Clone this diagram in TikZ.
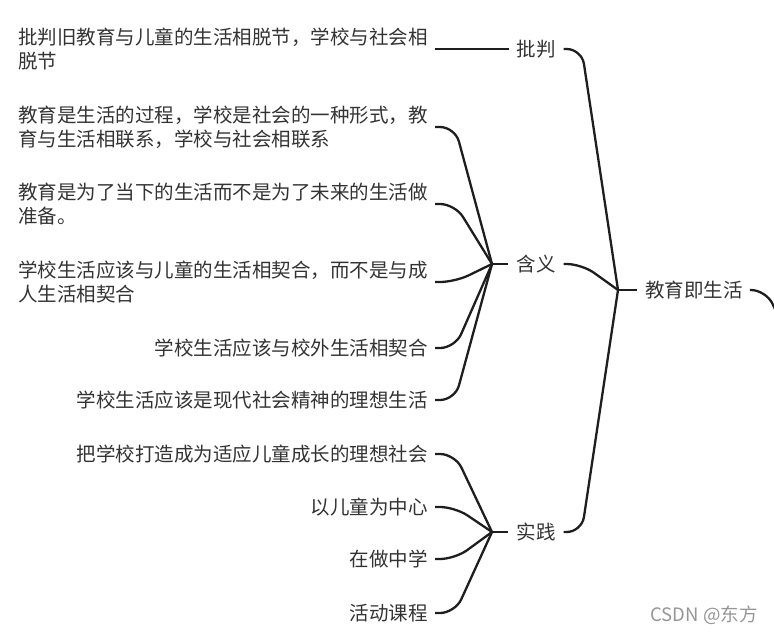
\documentclass[tikz,border=0pt]{standalone}
\usepackage{fontspec}
\setmainfont{Noto Sans CJK SC}
\usetikzlibrary{positioning,calc}
\definecolor{mapText}{RGB}{51,51,51}
\definecolor{mapLine}{RGB}{30,30,30}
\definecolor{markGray}{RGB}{150,150,150}
\begin{document}
\begin{tikzpicture}[x=1pt,y=-1pt,
  every node/.style={font=\fontsize{19.5}{24}\selectfont,text=mapText,inner sep=0pt},
  leaf/.style={anchor=east,align=left},
  branch/.style={line width=2.3pt,draw=mapLine,rounded corners=15pt}]
\useasboundingbox (0,0) rectangle (774,635);
\node (root) at (694,290) {教育即生活};
\node (critique) at (536,49) {批判};
\node (meaning) at (536,264) {含义};
\node (practice) at (536,532) {实践};
\coordinate (rootHub) at (618,290);
\coordinate (meaningHub) at (492,264);
\coordinate (practiceHub) at (492,532);
\coordinate (rootTail) at (792,345);
\node[leaf] (c1) at (428,49) {批判旧教育与儿童的生活相脱节，学校与社会相\\脱节};
\node[leaf] (m1) at (428,127) {教育是生活的过程，学校是社会的一种形式，教\\育与生活相联系，学校与社会相联系};
\node[leaf] (m2) at (428,204) {教育是为了当下的生活而不是为了未来的生活做\\准备。};
\node[leaf] (m3) at (428,282) {学校生活应该与儿童的生活相契合，而不是与成\\人生活相契合};
\node[leaf] (m4) at (428,348) {学校生活应该与校外生活相契合};
\node[leaf] (m5) at (428,400) {学校生活应该是现代社会精神的理想生活};
\node[leaf] (p1) at (428,454) {把学校打造成为适应儿童成长的理想社会};
\node[leaf] (p2) at (428,507) {以儿童为中心};
\node[leaf] (p3) at (428,559) {在做中学};
\node[leaf] (p4) at (428,613) {活动课程};
\node[text=markGray,font=\fontsize{18.5}{22}\selectfont] (mark) at (704,615) {CSDN @东方};
\draw[branch] ($(c1.east)+(7,0)$) -- ($(critique.west)+(-7,0)$);
\foreach \leaf in {m1,m2,m3,m4,m5}
  \draw[branch] ($(\leaf.east)+(7,0)$) -- ++(20,0) -- (meaningHub);
\foreach \leaf in {p1,p2,p3,p4}
  \draw[branch] ($(\leaf.east)+(7,0)$) -- ++(20,0) -- (practiceHub);
\draw[branch] (meaningHub) -- ($(meaning.west)+(-8,0)$);
\draw[branch] (practiceHub) -- ($(practice.west)+(-8,0)$);
\foreach \part in {critique,meaning,practice}
  \draw[branch] ($(\part.east)+(8,0)$) -- ++(18,0) -- (rootHub);
\draw[branch] (rootHub) -- ($(root.west)+(-8,0)$);
\draw[branch] ($(root.east)+(7,0)$) -- ++(16,0) -- (rootTail);
\end{tikzpicture}
\end{document}
